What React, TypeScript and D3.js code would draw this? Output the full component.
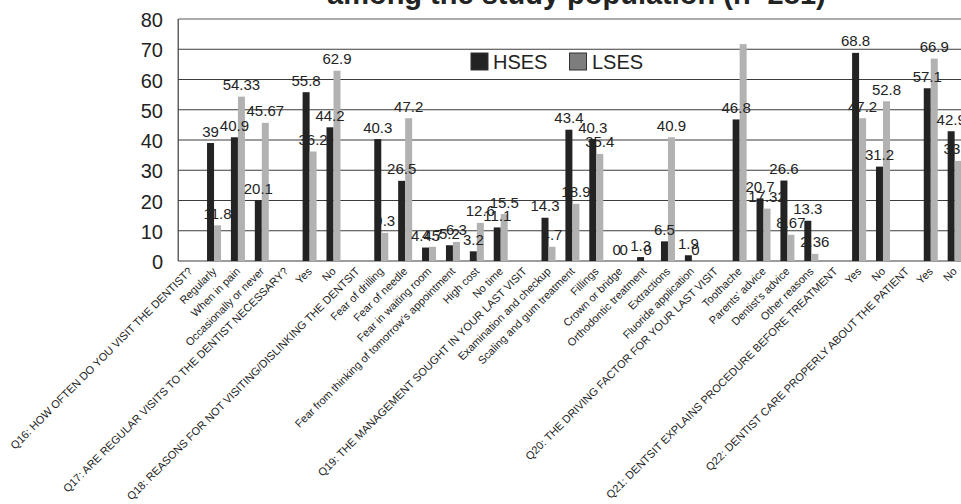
import React from "react";
import * as d3 from "d3";

// Category axis: question headers (no bars) followed by their answer options
const categories: string[] = [
  "Q16: HOW OFTEN DO YOU VISIT THE DENTIST?",
  "Regularly",
  "When in pain",
  "Occasionally or never",
  "Q17: ARE REGULAR VISITS TO THE DENTIST NECESSARY?",
  "Yes",
  "No",
  "Q18: REASONS FOR NOT VISITING/DISLINKING THE DENTSIT",
  "Fear of drilling",
  "Fear of needle",
  "Fear in waiting room",
  "Fear from thinking of tomorrow\u2019s appointment",
  "High cost",
  "No time",
  "Q19: THE MANAGEMENT SOUGHT IN YOUR LAST VISIT",
  "Examination and checkup",
  "Scaling and gum treatment",
  "Fillings",
  "Crown or bridge",
  "Orthodontic treatment",
  "Extractions",
  "Fluoride application",
  "Q20: THE DRIVING FACTOR FOR YOUR LAST VISIT",
  "Toothache",
  "Parents\u2019 advice",
  "Dentist\u2019s advice",
  "Other reasons",
  "Q21: DENTSIT EXPLAINS PROCEDURE BEFORE TREATMENT",
  "Yes",
  "No",
  "Q22: DENTIST CARE PROPERLY ABOUT THE PATIENT",
  "Yes",
  "No",
];

// Percentages, high socio-economic status group
const hses: (number | null)[] = [
  null, 39, 40.9, 20.1,
  null, 55.8, 44.2,
  null, 40.3, 26.5, 4.45, 5.2, 3.2, 11.1,
  null, 14.3, 43.4, 40.3, 0, 1.3, 6.5, 1.9,
  null, 46.8, 20.7, 26.6, 13.3,
  null, 68.8, 31.2,
  null, 57.1, 42.9,
];

// Percentages, low socio-economic status group
const lses: (number | null)[] = [
  null, 11.8, 54.33, 45.67,
  null, 36.2, 62.9,
  null, 9.3, 47.2, 4.7, 6.3, 12.6, 15.5,
  null, 4.7, 18.9, 35.4, 0, 0, 40.9, 0,
  null, 71.7, 17.32, 8.67, 2.36,
  null, 47.2, 52.8,
  null, 66.9, 33.1,
];

// Bars whose value label is not printed (index into lses)
const lsesUnlabelled: number[] = [23];

const yTicks: number[] = [0, 10, 20, 30, 40, 50, 60, 70, 80];

const seriesNames: string[] = ["HSES", "LSES"];

const titleText = "among the study population (n=281)";

const W = 961;
const H = 504;
const plotLeft = 178.2;
const plotRight = 966.6;
const plotTop = 19;
const plotBottom = 261;

const HSES_COLOR = "#232323";
const LSES_COLOR = "#b2b2b2";
const LEGEND_LSES = "#7d7d7d";
const GRID = "#3c3c3c";
const TEXT = "#232323";

const labelFont = "'Liberation Sans Narrow', 'Arial Narrow', 'Liberation Sans', Arial, sans-serif";
const sansFont = "'Liberation Sans', Arial, Helvetica, sans-serif";

export default function App() {
  const idx = d3.range(categories.length);
  const x = d3.scaleBand<number>().domain(idx).range([plotLeft, plotRight]).padding(0);
  const y = d3.scaleLinear().domain([0, 80]).range([plotBottom, plotTop]);
  const bw = x.bandwidth() * 0.293;
  const center = (i: number) => (x(i) as number) + x.bandwidth() / 2;
  const fmt = (v: number) => String(v);

  const labels: React.ReactNode[] = [];
  idx.forEach((i) => {
    const v = hses[i];
    if (v == null) return;
    labels.push(
      <text key={`hl${i}`} x={center(i) - bw / 2} y={y(v) - 6.5} textAnchor="middle"
        fontFamily={labelFont} fontSize={15} fill={TEXT}>{fmt(v)}</text>
    );
  });
  idx.forEach((i) => {
    const v = lses[i];
    if (v == null || lsesUnlabelled.includes(i)) return;
    labels.push(
      <text key={`ll${i}`} x={center(i) + bw / 2} y={y(v) - 6.5} textAnchor="middle"
        fontFamily={labelFont} fontSize={15} fill={TEXT}>{fmt(v)}</text>
    );
  });

  return (
    <svg width={W} height={H} style={{ position: "absolute", left: 0, top: 0, background: "#fff" }}>
      <rect x={0} y={0} width={W} height={H} fill="#fff" />
      {/* title (upper line runs off the top edge) */}
      <text x={327} y={4} fontFamily={sansFont} fontWeight="bold" fontSize={29} fill={TEXT}>
        {titleText}
      </text>

      {/* gridlines */}
      {yTicks.map((t) => (
        <line key={`g${t}`} x1={plotLeft} x2={W} y1={y(t)} y2={y(t)}
          stroke={t === 80 ? "#5a5a5a" : GRID} strokeWidth={1.2} />
      ))}
      <line x1={plotLeft} x2={plotLeft} y1={plotTop} y2={plotBottom} stroke={GRID} strokeWidth={1.2} />

      {/* y tick labels */}
      {yTicks.map((t) => (
        <text key={`yt${t}`} x={163} y={y(t) + 8} textAnchor="end"
          fontFamily={sansFont} fontSize={20} fill={TEXT}>{t}</text>
      ))}

      {/* bars */}
      {idx.map((i) => {
        const v = hses[i];
        if (v == null) return null;
        return <rect key={`hb${i}`} x={center(i) - bw} y={y(v)} width={bw}
          height={plotBottom - y(v)} fill={HSES_COLOR} />;
      })}
      {idx.map((i) => {
        const v = lses[i];
        if (v == null) return null;
        return <rect key={`lb${i}`} x={center(i)} y={y(v)} width={bw}
          height={plotBottom - y(v)} fill={LSES_COLOR} />;
      })}

      {/* value labels */}
      {labels}

      {/* category labels */}
      {idx.map((i) => {
        const ax = center(i) + 3;
        const ay = 272;
        return (
          <text key={`xl${i}`} x={ax} y={ay} textAnchor="end"
            transform={`rotate(-45 ${ax} ${ay})`}
            fontFamily={sansFont} fontSize={11} fill={TEXT}>{categories[i]}</text>
        );
      })}

      {/* legend */}
      <rect x={471} y={53} width={17} height={17} fill={HSES_COLOR} stroke="#333" strokeWidth={1} />
      <text x={493} y={68.5} fontFamily={sansFont} fontSize={20} fill={TEXT}>{seriesNames[0]}</text>
      <rect x={569.5} y={53} width={17} height={17} fill={LEGEND_LSES} stroke="#333" strokeWidth={1} />
      <text x={592} y={68.5} fontFamily={sansFont} fontSize={20} fill={TEXT}>{seriesNames[1]}</text>
    </svg>
  );
}
